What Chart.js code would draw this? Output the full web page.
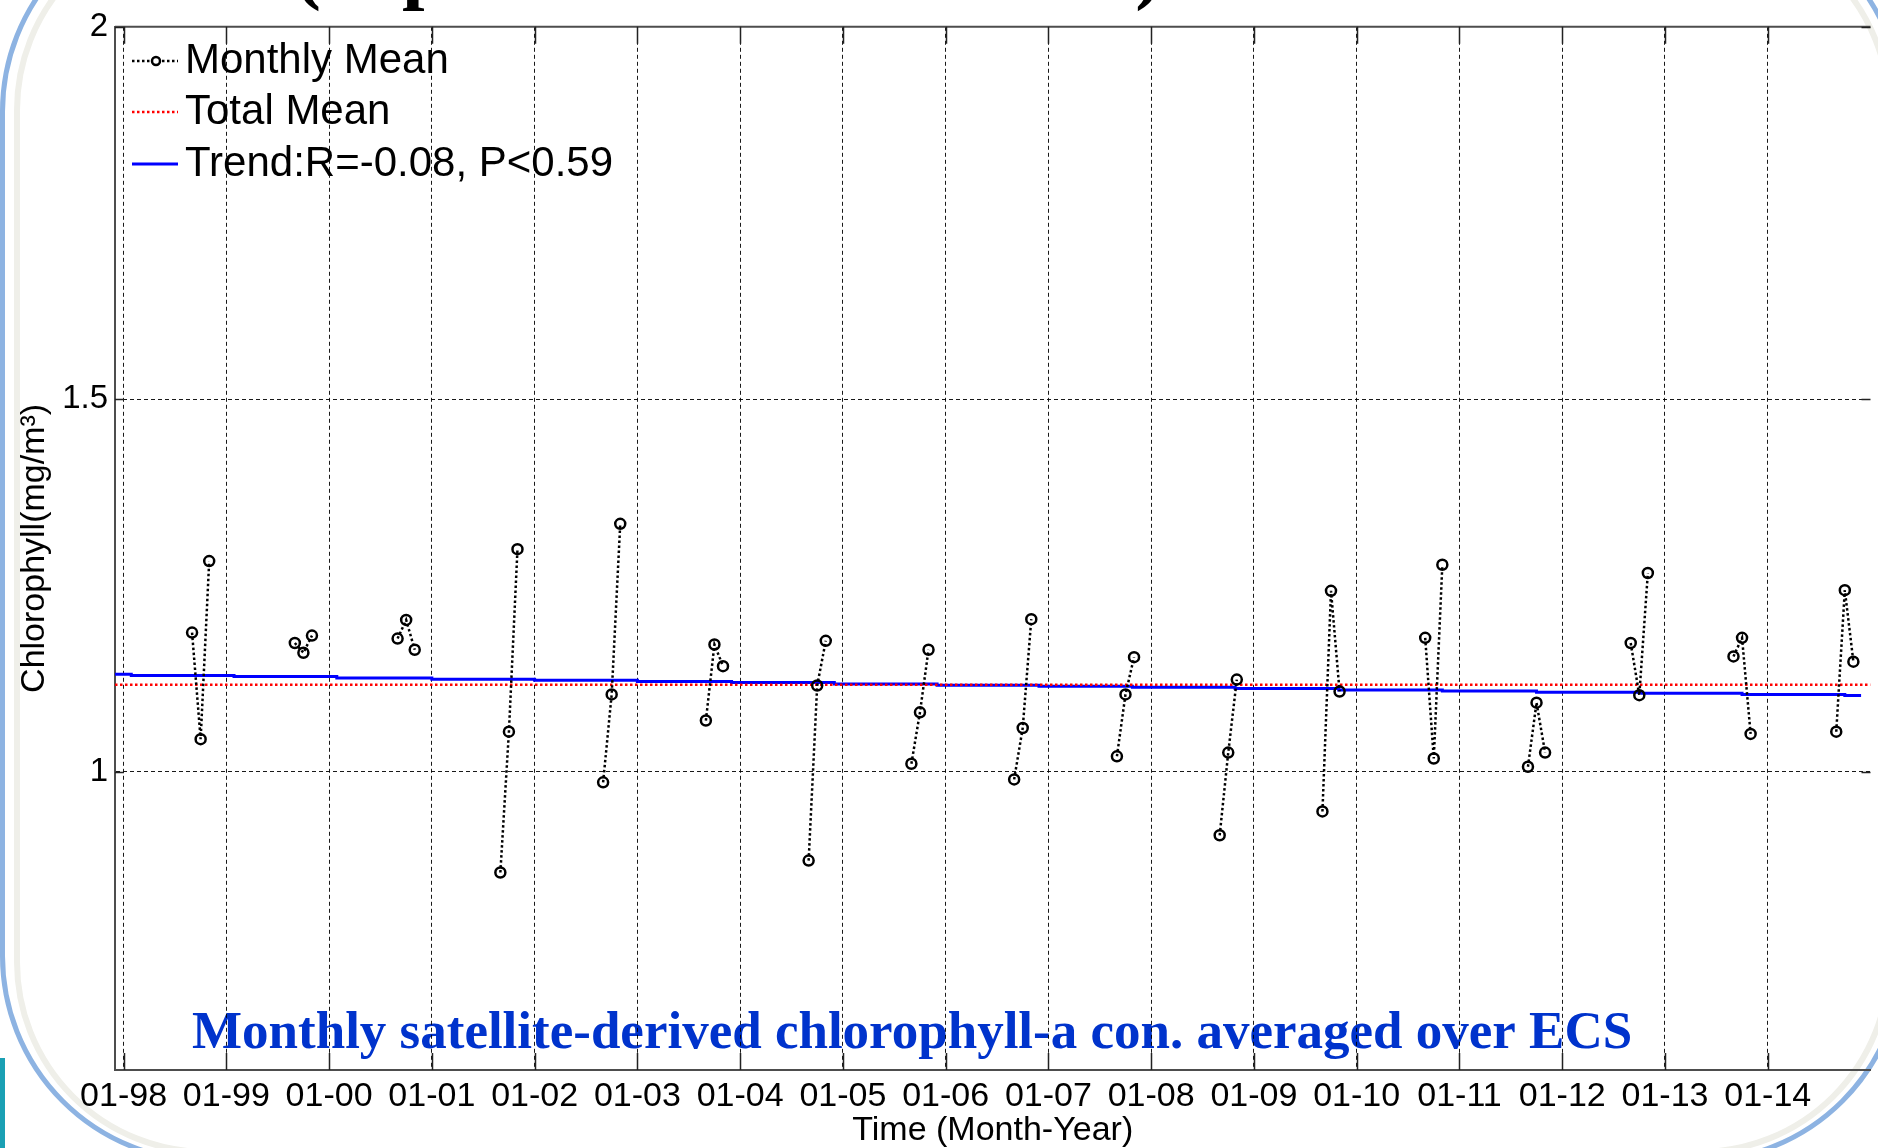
<!DOCTYPE html>
<html>
<head>
<meta charset="utf-8">
<title>Monthly chlorophyll-a over ECS</title>
<script src="https://cdn.jsdelivr.net/npm/chart.js@4.4.1/dist/chart.umd.min.js"></script>
<style>
  html, body { margin: 0; padding: 0; background: #fff; }
  #wrap { position: relative; width: 1878px; height: 1148px; }
</style>
</head>
<body>
<div id="wrap"><canvas id="chl" width="1878" height="1148"></canvas></div>
<script>
// x values are months counted from Jan 1998 (Sep, Oct, Nov sampled each year)
const years = [1998, 1999, 2000, 2001, 2002, 2003, 2004, 2005, 2006, 2007, 2008, 2009, 2010, 2011, 2012, 2013, 2014];
const sampleMonths = [8, 9, 10];
const monthlyMean = [
  [1.187, 1.044, 1.283], // 1998
  [1.173, 1.160, 1.183], // 1999
  [1.179, 1.204, 1.164], // 2000
  [0.865, 1.054, 1.299], // 2001
  [0.986, 1.104, 1.333], // 2002
  [1.069, 1.171, 1.142], // 2003
  [0.881, 1.116, 1.176], // 2004
  [1.011, 1.080, 1.164], // 2005
  [0.990, 1.059, 1.205], // 2006
  [1.021, 1.104, 1.154], // 2007
  [0.915, 1.026, 1.124], // 2008
  [0.947, 1.243, 1.108], // 2009
  [1.180, 1.018, 1.278], // 2010
  [1.007, 1.093, 1.026], // 2011
  [1.173, 1.103, 1.267], // 2012
  [1.155, 1.180, 1.051], // 2013
  [1.054, 1.244, 1.148]  // 2014
];
const totalMean = 1.117;

// trend line is drawn as small steps; months where each new level starts
const trendStart = -1;
const trendEnd = 202.9;
const trendBreaks = [0.9, 12.9, 24.9, 36, 48, 60, 71, 83, 95, 106.9, 117.8, 129.8, 141.9, 154, 165, 177.3, 189, 201];
const trendLevels = [1.131, 1.1295, 1.128, 1.126, 1.1245, 1.123, 1.1215, 1.120, 1.118, 1.1165, 1.115, 1.1135, 1.112, 1.110, 1.1085, 1.107, 1.1055, 1.104, 1.1025];

const tickMonths = [0, 12, 24, 36, 48, 60, 72, 84, 96, 108, 120, 132, 144, 156, 168, 180, 192];
const tickLabels = ['01-98', '01-99', '01-00', '01-01', '01-02', '01-03', '01-04', '01-05', '01-06', '01-07', '01-08', '01-09', '01-10', '01-11', '01-12', '01-13', '01-14'];
const yTicks = [1, 1.5, 2];

const legendLabels = ['Monthly Mean', 'Total Mean', 'Trend:R=-0.08, P<0.59'];
const slideTitle = '(September \u2013 November)';
const note = 'Monthly satellite-derived chlorophyll-a con. averaged over ECS';

const SANS = '"Liberation Sans", Arial, sans-serif';
const SERIF = '"Liberation Serif", "Times New Roman", serif';

// build point lists; a null between years breaks the dotted line
const meanPoints = [];
years.forEach((yr, i) => {
  sampleMonths.forEach((m, j) => {
    meanPoints.push({ x: (yr - 1998) * 12 + m, y: monthlyMean[i][j] });
  });
  meanPoints.push({ x: (yr - 1998) * 12 + 11, y: null });
});

const trendPoints = [{ x: trendStart, y: trendLevels[0] }];
trendBreaks.forEach((b, i) => trendPoints.push({ x: b, y: trendLevels[i + 1] }));
trendPoints.push({ x: trendEnd, y: trendLevels[trendLevels.length - 1] });

function roundRect(ctx, x, y, w, h, r) {
  ctx.beginPath();
  ctx.moveTo(x + r, y);
  ctx.arcTo(x + w, y, x + w, y + h, r);
  ctx.arcTo(x + w, y + h, x, y + h, r);
  ctx.arcTo(x, y + h, x, y, r);
  ctx.arcTo(x, y, x + w, y, r);
  ctx.closePath();
}

// slide background pieces, cut-off title and the blue note
const slideBits = {
  id: 'slideBits',
  beforeDraw(chart) {
    const ctx = chart.ctx;
    ctx.save();
    ctx.fillStyle = '#fff';
    ctx.fillRect(0, 0, chart.width, chart.height);

    ctx.lineWidth = 6;
    ctx.strokeStyle = '#efefe9';
    roundRect(ctx, 17, -80, 1872, 1232, 190);
    ctx.stroke();

    ctx.lineWidth = 5;
    ctx.strokeStyle = '#8db3e2';
    roundRect(ctx, 2.5, -93.5, 1900, 1254.5, 205);
    ctx.stroke();

    ctx.fillStyle = '#1aa0b4';
    ctx.fillRect(0, 1058, 5, 90);

    ctx.fillStyle = '#000';
    ctx.font = 'bold 81px ' + SERIF;
    ctx.textBaseline = 'alphabetic';
    ctx.fillText(slideTitle, 294, -6);

    ctx.fillStyle = '#0033cc';
    ctx.font = 'bold 53px ' + SERIF;
    ctx.fillText(note, 192, 1048);
    ctx.restore();
  }
};

// matlab style box: top edge plus inward ticks on every side
const boxTicks = {
  id: 'boxTicks',
  afterDatasetsDraw(chart) {
    const { ctx, chartArea: a, scales: { x, y } } = chart;
    ctx.save();
    ctx.strokeStyle = '#4d4d4d';
    ctx.lineWidth = 2;
    ctx.beginPath();
    ctx.moveTo(a.left, a.top);
    ctx.lineTo(a.right, a.top);
    ctx.stroke();

    ctx.strokeStyle = '#222';
    ctx.lineWidth = 1.5;
    ctx.beginPath();
    x.ticks.forEach(t => {
      const px = Math.round(x.getPixelForValue(t.value)) + 0.5;
      ctx.moveTo(px, a.bottom);
      ctx.lineTo(px, a.bottom - 17);
      ctx.moveTo(px, a.top);
      ctx.lineTo(px, a.top + 17);
    });
    y.ticks.forEach(t => {
      const py = Math.round(y.getPixelForValue(t.value)) + 0.5;
      ctx.moveTo(a.left, py);
      ctx.lineTo(a.left + 9, py);
      ctx.moveTo(a.right, py);
      ctx.lineTo(a.right - 9, py);
    });
    ctx.stroke();
    ctx.restore();
  }
};

// legend without box, in the top-left corner of the axes
const cornerLegend = {
  id: 'cornerLegend',
  afterDraw(chart) {
    const ctx = chart.ctx;
    const rowsY = [61, 112, 164];
    ctx.save();
    chart.data.datasets.forEach((ds, i) => {
      const yy = rowsY[i];
      ctx.beginPath();
      ctx.setLineDash(ds.borderDash || []);
      ctx.strokeStyle = ds.borderColor;
      ctx.lineWidth = ds.borderWidth;
      ctx.moveTo(132, yy);
      ctx.lineTo(178, yy);
      ctx.stroke();
      if (ds.pointRadius) {
        ctx.setLineDash([]);
        ctx.beginPath();
        ctx.lineWidth = ds.pointBorderWidth;
        ctx.arc(156, yy, 4, 0, Math.PI * 2);
        ctx.fillStyle = '#fff';
        ctx.fill();
        ctx.stroke();
      }
      ctx.setLineDash([]);
      ctx.fillStyle = '#000';
      ctx.font = '42px ' + SANS;
      ctx.textBaseline = 'middle';
      ctx.fillText(ds.label, 185, yy);
    });
    ctx.restore();
  }
};

new Chart(document.getElementById('chl'), {
  type: 'line',
  data: {
    datasets: [
      {
        label: legendLabels[0],
        data: meanPoints,
        borderColor: '#000',
        borderWidth: 2.5,
        borderDash: [2.5, 2.5],
        spanGaps: false,
        pointRadius: 5,
        pointBorderWidth: 2.5,
        pointBorderColor: '#000',
        pointBackgroundColor: 'rgba(0,0,0,0)'
      },
      {
        label: legendLabels[1],
        data: [{ x: -1, y: totalMean }, { x: 204, y: totalMean }],
        borderColor: '#ff0000',
        borderWidth: 2.5,
        borderDash: [2.5, 2.5],
        pointRadius: 0
      },
      {
        label: legendLabels[2],
        data: trendPoints,
        borderColor: '#0000ff',
        borderWidth: 3,
        stepped: 'before',
        pointRadius: 0
      }
    ]
  },
  options: {
    responsive: false,
    animation: false,
    events: [],
    layout: { padding: { top: 22, left: 0, right: 0, bottom: 0 } },
    plugins: {
      legend: { display: false },
      tooltip: { enabled: false }
    },
    scales: {
      x: {
        type: 'linear',
        min: -1,
        max: 204,
        afterBuildTicks: s => { s.ticks = tickMonths.map(v => ({ value: v })); },
        afterFit: s => { s.height = 78; },
        ticks: {
          autoSkip: false,
          maxRotation: 0,
          padding: 6,
          color: '#000',
          font: { family: SANS, size: 34 },
          callback: (v, i) => tickLabels[i]
        },
        grid: { color: 'rgba(0,0,0,0.9)', lineWidth: 1, drawTicks: false },
        border: { display: true, color: '#4d4d4d', width: 2, dash: [4, 3] },
        title: {
          display: true,
          text: 'Time (Month-Year)',
          color: '#000',
          font: { family: SANS, size: 34, lineHeight: 1 },
          padding: { top: 0, bottom: 0 }
        }
      },
      y: {
        type: 'linear',
        min: 0.6,
        max: 2,
        afterBuildTicks: s => { s.ticks = yTicks.map(v => ({ value: v })); },
        afterFit: s => { s.width = 115; },
        ticks: {
          padding: 7,
          color: '#000',
          font: { family: SANS, size: 33 },
          callback: v => String(v)
        },
        grid: { color: 'rgba(0,0,0,0.9)', lineWidth: 1, drawTicks: false },
        border: { display: true, color: '#4d4d4d', width: 2, dash: [4, 3] },
        title: {
          display: true,
          text: 'Chlorophyll(mg/m\u00b3)',
          color: '#000',
          font: { family: SANS, size: 34 },
          padding: { top: 14, bottom: 0 }
        }
      }
    }
  },
  plugins: [slideBits, boxTicks, cornerLegend]
});
</script>
</body>
</html>
